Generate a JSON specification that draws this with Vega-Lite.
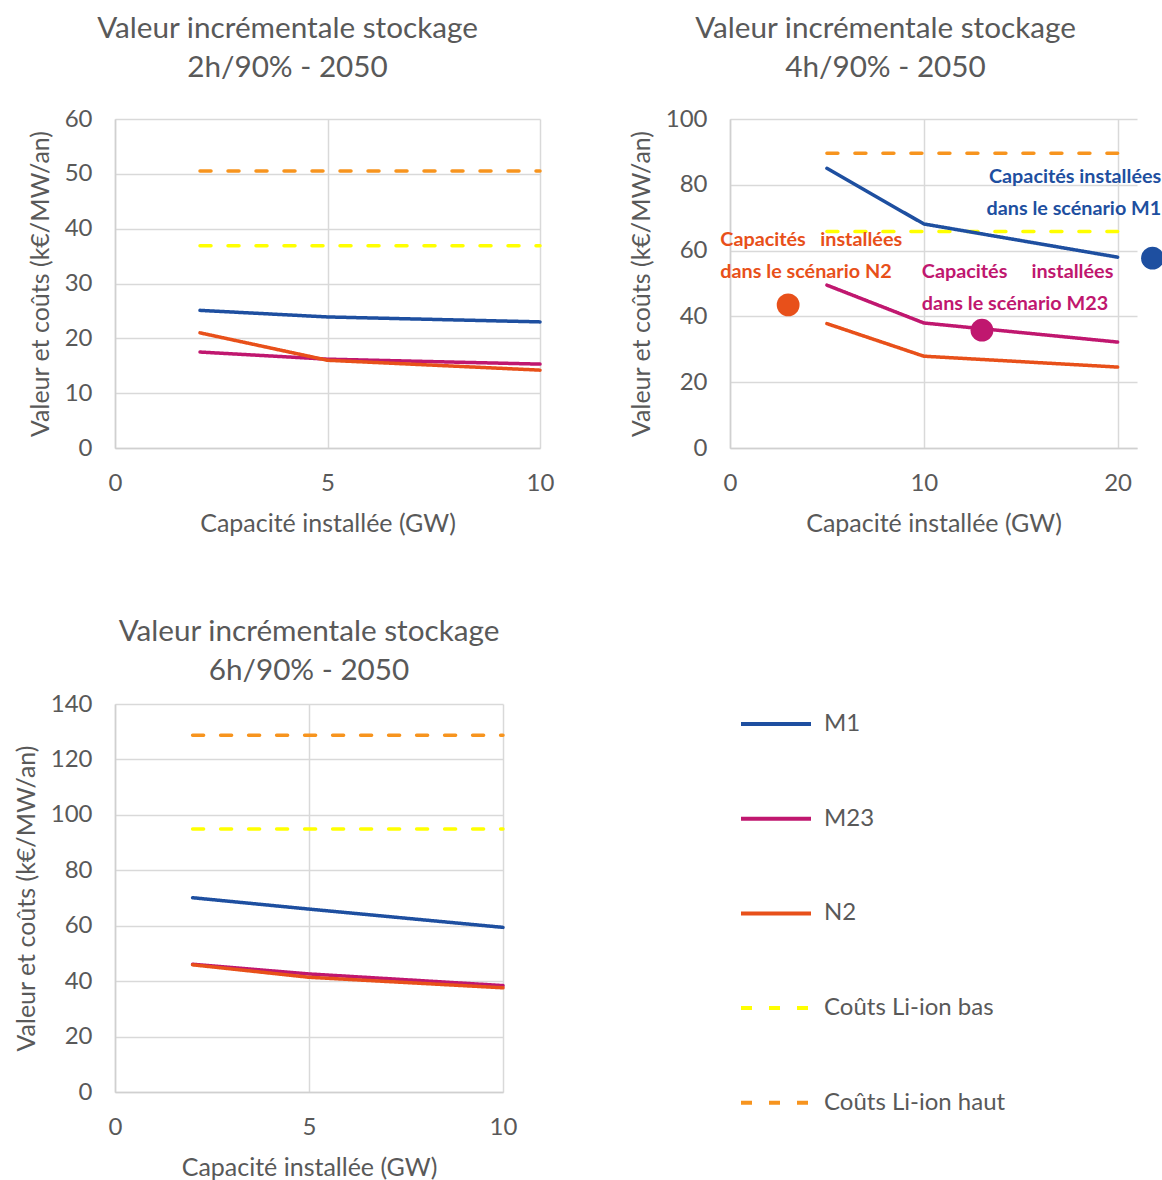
{
  "$schema": "https://vega.github.io/schema/vega-lite/v6.json",
  "padding": {"left": 14, "top": 14, "right": 0, "bottom": 0},
  "background": "white",
  "config": {
    "font": "Lato",
    "view": {"stroke": null},
    "title": {"fontSize": 29.7, "fontWeight": "normal", "color": "#595959", "lineHeight": 39, "anchor": "middle"},
    "axis": {
      "labelFontSize": 24,
      "labelColor": "#595959",
      "titleFontSize": 25,
      "titleFontWeight": "normal",
      "titleColor": "#595959",
      "ticks": false,
      "labelPadding": 23,
      "gridColor": "#D9D9D9",
      "gridWidth": 1.5,
      "domainColor": "#D0D0D0",
      "domainWidth": 1.5
    },
    "axisX": {"titlePadding": 16, "labelFlush": false},
    "axisY": {"titlePadding": 11, "labelFlush": false}
  },
  "bounds": "flush",
  "columns": 2,
  "spacing": {"row": 256, "column": 190},
  "resolve": {"legend": {"color": "independent", "strokeDash": "independent"}},
  "datasets": {
    "h2": [
      {"x": 2, "v": 36.9, "serie": "Coûts Li-ion bas"},
      {"x": 10, "v": 36.9, "serie": "Coûts Li-ion bas"},
      {"x": 2, "v": 50.5, "serie": "Coûts Li-ion haut"},
      {"x": 10, "v": 50.5, "serie": "Coûts Li-ion haut"},
      {"x": 2, "v": 25.1, "serie": "M1"},
      {"x": 5, "v": 23.9, "serie": "M1"},
      {"x": 10, "v": 23.0, "serie": "M1"},
      {"x": 2, "v": 17.5, "serie": "M23"},
      {"x": 5, "v": 16.2, "serie": "M23"},
      {"x": 10, "v": 15.3, "serie": "M23"},
      {"x": 2, "v": 21.0, "serie": "N2"},
      {"x": 5, "v": 16.0, "serie": "N2"},
      {"x": 10, "v": 14.2, "serie": "N2"}
    ],
    "h4": [
      {"x": 5, "v": 65.8, "serie": "Coûts Li-ion bas"},
      {"x": 20, "v": 65.8, "serie": "Coûts Li-ion bas"},
      {"x": 5, "v": 89.6, "serie": "Coûts Li-ion haut"},
      {"x": 20, "v": 89.6, "serie": "Coûts Li-ion haut"},
      {"x": 5, "v": 85.0, "serie": "M1"},
      {"x": 10, "v": 68.1, "serie": "M1"},
      {"x": 20, "v": 58.0, "serie": "M1"},
      {"x": 5, "v": 49.5, "serie": "M23"},
      {"x": 10, "v": 38.0, "serie": "M23"},
      {"x": 20, "v": 32.2, "serie": "M23"},
      {"x": 5, "v": 37.8, "serie": "N2"},
      {"x": 10, "v": 27.9, "serie": "N2"},
      {"x": 20, "v": 24.6, "serie": "N2"}
    ],
    "h4_scenarios": [
      {"x": 3.0, "v": 43.5, "serie": "N2"},
      {"x": 13.0, "v": 35.8, "serie": "M23"},
      {"x": 21.8, "v": 57.7, "serie": "M1"}
    ],
    "h4_notes_left": [
      {"x": -0.5, "v": 63.2, "serie": "N2", "note": "Capacités\u00a0\u00a0\u00a0installées\ndans le scénario N2"},
      {"x": 9.9, "v": 53.6, "serie": "M23", "note": "Capacités\u00a0\u00a0\u00a0\u00a0\u00a0installées\ndans le scénario M23"}
    ],
    "h4_notes_right": [
      {"x": 22.25, "v": 82.5, "serie": "M1", "note": "Capacités installées\ndans le scénario M1"}
    ],
    "h6": [
      {"x": 2, "v": 94.9, "serie": "Coûts Li-ion bas"},
      {"x": 10, "v": 94.9, "serie": "Coûts Li-ion bas"},
      {"x": 2, "v": 128.7, "serie": "Coûts Li-ion haut"},
      {"x": 10, "v": 128.7, "serie": "Coûts Li-ion haut"},
      {"x": 2, "v": 70.1, "serie": "M1"},
      {"x": 5, "v": 66.0, "serie": "M1"},
      {"x": 10, "v": 59.4, "serie": "M1"},
      {"x": 2, "v": 46.1, "serie": "M23"},
      {"x": 5, "v": 42.6, "serie": "M23"},
      {"x": 10, "v": 38.4, "serie": "M23"},
      {"x": 2, "v": 45.9, "serie": "N2"},
      {"x": 5, "v": 41.4, "serie": "N2"},
      {"x": 10, "v": 37.6, "serie": "N2"}
    ]
  },
  "concat": [
    {
      "width": 425,
      "height": 329,
      "title": {"text": ["Valeur incrémentale stockage", "2h/90% - 2050"], "dx": -40, "offset": 23},
      "data": {"name": "h2"},
      "mark": {"type": "line", "strokeWidth": 3.5, "strokeCap": "round"},
      "encoding": {
        "x": {"field": "x", "type": "quantitative", "scale": {"domain": [0, 10], "nice": false}, "axis": {"values": [0, 5, 10], "title": "Capacité installée (GW)"}},
        "y": {"field": "v", "type": "quantitative", "scale": {"domain": [0, 60], "nice": false}, "axis": {"values": [0, 10, 20, 30, 40, 50, 60], "title": "Valeur et coûts (k€/MW/an)"}},
        "color": {"field": "serie", "type": "nominal", "scale": {"domain": ["M1", "M23", "N2", "Coûts Li-ion bas", "Coûts Li-ion haut"], "range": ["#1E4FA0", "#C0176F", "#E8501A", "#FFFF00", "#F7941E"]}, "legend": null},
        "strokeDash": {"field": "serie", "type": "nominal", "scale": {"domain": ["M1", "M23", "N2", "Coûts Li-ion bas", "Coûts Li-ion haut"], "range": [[1, 0], [1, 0], [1, 0], [11, 17], [11, 17]]}, "legend": null}
      }
    },
    {
      "width": 407,
      "height": 329,
      "title": {"text": ["Valeur incrémentale stockage", "4h/90% - 2050"], "dx": -48, "offset": 23},
      "encoding": {
        "x": {"field": "x", "type": "quantitative", "scale": {"domain": [0, 21], "nice": false}, "axis": {"values": [0, 10, 20], "title": "Capacité installée (GW)"}},
        "y": {"field": "v", "type": "quantitative", "scale": {"domain": [0, 100], "nice": false}, "axis": {"values": [0, 20, 40, 60, 80, 100], "title": "Valeur et coûts (k€/MW/an)"}},
        "color": {"field": "serie", "type": "nominal", "scale": {"domain": ["M1", "M23", "N2", "Coûts Li-ion bas", "Coûts Li-ion haut"], "range": ["#1E4FA0", "#C0176F", "#E8501A", "#FFFF00", "#F7941E"]}, "legend": null}
      },
      "layer": [
        {
          "data": {"name": "h4"},
          "mark": {"type": "line", "strokeWidth": 3.5, "strokeCap": "round"},
          "encoding": {
            "strokeDash": {"field": "serie", "type": "nominal", "scale": {"domain": ["M1", "M23", "N2", "Coûts Li-ion bas", "Coûts Li-ion haut"], "range": [[1, 0], [1, 0], [1, 0], [11, 17], [11, 17]]}, "legend": null}
          }
        },
        {
          "data": {"name": "h4_scenarios"},
          "mark": {"type": "circle", "size": 520, "opacity": 1}
        },
        {
          "data": {"name": "h4_notes_left"},
          "mark": {"type": "text", "align": "left", "baseline": "middle", "fontSize": 19.8, "fontWeight": "bold", "lineBreak": "\n", "lineHeight": 32},
          "encoding": {"text": {"field": "note"}}
        },
        {
          "data": {"name": "h4_notes_right"},
          "mark": {"type": "text", "align": "right", "baseline": "middle", "fontSize": 19.8, "fontWeight": "bold", "lineBreak": "\n", "lineHeight": 32},
          "encoding": {"text": {"field": "note"}}
        }
      ]
    },
    {
      "width": 388,
      "height": 388,
      "title": {"text": ["Valeur incrémentale stockage", "6h/90% - 2050"], "dx": 0, "offset": 0},
      "data": {"name": "h6"},
      "mark": {"type": "line", "strokeWidth": 3.5, "strokeCap": "round"},
      "encoding": {
        "x": {"field": "x", "type": "quantitative", "scale": {"domain": [0, 10], "nice": false}, "axis": {"values": [0, 5, 10], "title": "Capacité installée (GW)"}},
        "y": {"field": "v", "type": "quantitative", "scale": {"domain": [0, 140], "nice": false}, "axis": {"values": [0, 20, 40, 60, 80, 100, 120, 140], "title": "Valeur et coûts (k€/MW/an)"}},
        "color": {
          "field": "serie", "type": "nominal",
          "scale": {"domain": ["M1", "M23", "N2", "Coûts Li-ion bas", "Coûts Li-ion haut"], "range": ["#1E4FA0", "#C0176F", "#E8501A", "#FFFF00", "#F7941E"]},
          "legend": {"orient": "none", "legendX": 624, "legendY": -17, "title": null, "symbolType": "stroke", "symbolSize": 4900, "symbolStrokeWidth": 4, "labelFontSize": 24, "labelColor": "#595959", "labelOffset": 11, "labelLimit": 400, "rowPadding": 45.7, "padding": 0}
        },
        "strokeDash": {
          "field": "serie", "type": "nominal",
          "scale": {"domain": ["M1", "M23", "N2", "Coûts Li-ion bas", "Coûts Li-ion haut"], "range": [[1, 0], [1, 0], [1, 0], [11, 17], [11, 17]]},
          "legend": {"orient": "none", "legendX": 624, "legendY": -17, "title": null, "symbolType": "stroke", "symbolSize": 4900, "symbolStrokeWidth": 4, "labelFontSize": 24, "labelColor": "#595959", "labelOffset": 11, "labelLimit": 400, "rowPadding": 45.7, "padding": 0}
        }
      }
    }
  ]
}
